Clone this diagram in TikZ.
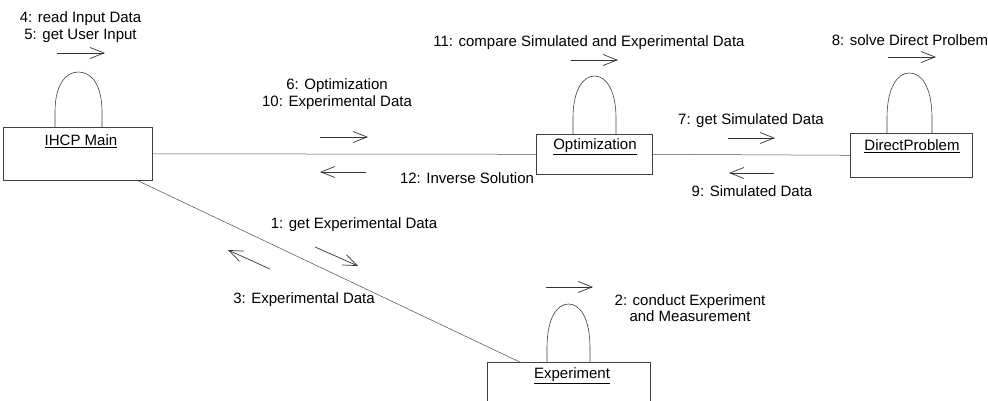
\documentclass[tikz,border=0pt]{standalone}
\usepackage{fontspec}
\setmainfont{Liberation Sans}
\usetikzlibrary{arrows.meta,calc}
\begin{document}
\begin{tikzpicture}[x=1pt,y=-1pt,
  objbox/.style={draw=black!75,line width=0.6pt,anchor=north west,inner sep=0pt},
  objname/.style={font=\fontsize{15}{17}\selectfont,anchor=center},
  lbl/.style={font=\fontsize{15}{16.5}\selectfont,align=center,inner sep=0pt},
  link/.style={draw=black!70,line width=0.5pt},
  loopline/.style={draw=black!75,line width=0.6pt},
  msg/.style={draw=black!80,line width=0.7pt,-{Straight Barb[length=14pt,width=11pt]}}]
\useasboundingbox (0,0) rectangle (988,401);
\clip (0,0) rectangle (988,401);

% objects
\node[objbox,minimum width=149pt,minimum height=53pt] (ihcp) at (3,127) {};
\node[objname] (ihcpname) at (81,141) {\underline{IHCP Main}};
\node[objbox,minimum width=116pt,minimum height=40pt] (opt) at (536,134) {};
\node[objname] (optname) at (595,147) {\underline{Optimization}};
\node[objbox,minimum width=122pt,minimum height=44pt] (dir) at (850,133) {};
\node[objname] (dirname) at (912,146) {\underline{DirectProblem}};
\node[objbox,minimum width=163pt,minimum height=60pt] (exp) at (487,362) {};
\node[objname] (expname) at (572,376) {\underline{Experiment}};

% links
\draw[link] (ihcp.east) -- (opt.west);
\draw[link] (opt.east) -- (dir.west);
\coordinate (ihcpfoot) at ($(ihcp.south west)!0.9!(ihcp.south east)$);
\coordinate (exphead) at ($(exp.north west)!0.2!(exp.north east)$);
\draw[link] (ihcpfoot) -- (exphead);

% self links
\draw[loopline] (55,127) -- (55,112) .. controls (55,84) and (66,72) .. (78.5,72) .. controls (91,72) and (102,84) .. (102,112) -- (102,127);
\draw[loopline] (573,134) -- (573,118) .. controls (573,90) and (583,76) .. (594.5,76) .. controls (606,76) and (616,90) .. (616,118) -- (616,134);
\draw[loopline] (887,133) -- (887,118) .. controls (887,88) and (897,73) .. (909.5,73) .. controls (922,73) and (932,88) .. (932,118) -- (932,133);
\draw[loopline] (547,362) -- (547,348) .. controls (547,318) and (557,304) .. (568.5,304) .. controls (580,304) and (590,318) .. (590,348) -- (590,362);

% message arrows
\coordinate (m4a) at (57,53);   \coordinate (m4b) at (105,53);
\coordinate (m11a) at (571,60); \coordinate (m11b) at (618,60);
\coordinate (m8a) at (888,57);  \coordinate (m8b) at (936,57);
\coordinate (m6a) at (320,137); \coordinate (m6b) at (368,137);
\coordinate (m12a) at (366,172); \coordinate (m12b) at (320,172);
\coordinate (m7a) at (728,138); \coordinate (m7b) at (775,138);
\coordinate (m9a) at (774,173); \coordinate (m9b) at (729,173);
\coordinate (m2a) at (546,287); \coordinate (m2b) at (593,287);
\coordinate (m1a) at (315,247); \coordinate (m1b) at (358,266);
\coordinate (m3a) at (270,269); \coordinate (m3b) at (228,250);
\foreach \m in {4,11,8,6,12,7,9,2,1,3} \draw[msg] (m\m a) -- (m\m b);

% message labels
\node[lbl] (l45) at (80.5,27) {4: read Input Data\\5: get User Input};
\node[lbl] (l610) at (337,94) {6: Optimization\\10: Experimental Data};
\node[lbl] (l11) at (589,43) {11: compare Simulated and Experimental Data};
\node[lbl] (l8) at (910,40) {8: solve Direct Prolbem};
\node[lbl] (l7) at (751,121) {7: get Simulated Data};
\node[lbl] (l9) at (752,191) {9: Simulated Data};
\node[lbl] (l12) at (467,178) {12: Inverse Solution};
\node[lbl] (l1) at (354,225) {1: get Experimental Data};
\node[lbl] (l3) at (304,300) {3: Experimental Data};
\node[lbl] (l2) at (690,308) {2: conduct Experiment\\and Measurement};
\end{tikzpicture}
\end{document}
